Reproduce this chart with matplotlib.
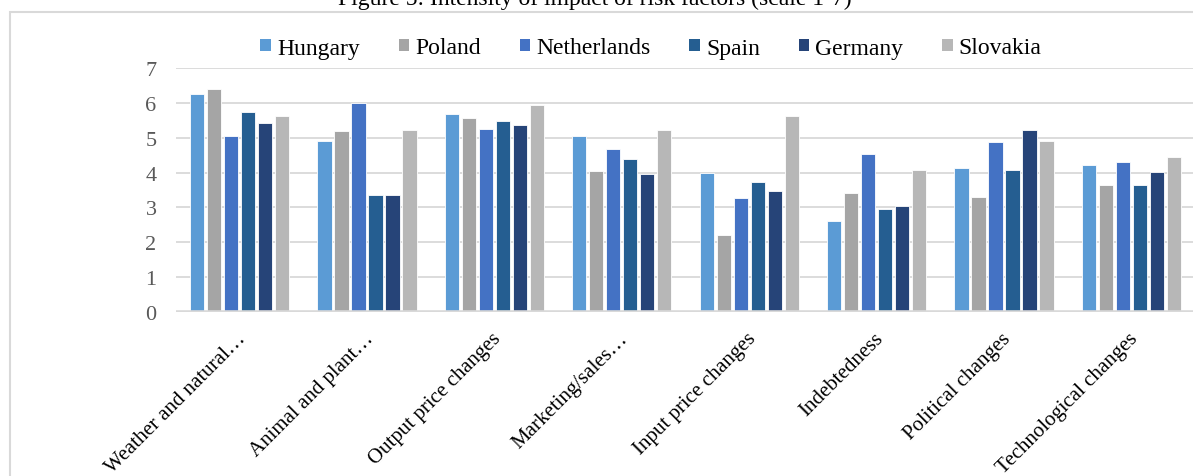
import matplotlib
matplotlib.use("Agg")
import matplotlib.pyplot as plt
from matplotlib.patches import Patch, Rectangle
from matplotlib.transforms import ScaledTranslation
import numpy as np

categories = [
    "Weather and natural\u2026",
    "Animal and plant\u2026",
    "Output price changes",
    "Marketing/sales\u2026",
    "Input price changes",
    "Indebtedness",
    "Political changes",
    "Technological changes",
]
countries = ["Hungary", "Poland", "Netherlands", "Spain", "Germany", "Slovakia"]

hungary = [6.24, 4.91, 5.68, 5.06, 3.98, 2.62, 4.14, 4.22]
poland = [6.41, 5.19, 5.56, 4.04, 2.21, 3.41, 3.31, 3.63]
netherlands = [5.06, 5.99, 5.24, 4.69, 3.27, 4.52, 4.89, 4.31]
spain = [5.74, 3.37, 5.49, 4.38, 3.74, 2.96, 4.08, 3.63]
germany = [5.41, 3.36, 5.36, 3.95, 3.47, 3.04, 5.23, 4.01]
slovakia = [5.63, 5.21, 5.95, 5.22, 5.63, 4.07, 4.92, 4.46]
yticks = [0, 1, 2, 3, 4, 5, 6, 7]

series = [hungary, poland, netherlands, spain, germany, slovakia]
colors = ["#5B9BD5", "#A5A5A5", "#4472C4", "#255E91", "#264478", "#B7B7B7"]

plt.rcParams["font.family"] = ["Liberation Serif", "DejaVu Serif"]

W, H = 1193, 477
fig = plt.figure(figsize=(W / 100, H / 100), dpi=100)

# outer chart frame
fig.patches.append(Rectangle((10 / W, -0.1), 1.2, (H - 13) / H + 0.1,
                             transform=fig.transFigure, fill=False,
                             edgecolor="#D9D9D9", linewidth=1.5))

fig.text(595 / W, 1 - 5 / H, "Figure 5: Intensity of impact of risk factors (scale 1-7)",
         ha="center", va="baseline", fontsize=17, color="black")

ax = fig.add_axes([176 / W, (H - 313) / H, 1019 / W, 244 / H])

x = np.arange(len(categories))
step = 0.1334
width = 0.112
for i, (vals, c, name) in enumerate(zip(series, colors, countries)):
    off = (i - 2.5) * step
    ax.bar(x + off, vals, width=width, color=c, edgecolor="white",
           linewidth=0.6, label=name, zorder=3)

ax.set_xlim(-0.5, len(categories) - 0.5)
ax.set_ylim(0, 7)
ax.set_yticks(yticks)
ax.set_yticklabels([str(v) for v in yticks], color="#595959", fontsize=16)
ax.tick_params(axis="y", length=0, pad=14)
ax.tick_params(axis="x", length=0, pad=0)
ax.set_xticks(x)
ax.set_xticklabels(categories, rotation=45, ha="right", va="top",
                   rotation_mode="anchor", fontsize=15, color="black")
off_t = ScaledTranslation(-3 / 100, -17 / 100, fig.dpi_scale_trans)
for lbl in ax.get_xticklabels():
    lbl.set_transform(lbl.get_transform() + off_t)

for v in yticks[1:]:
    ax.axhline(v, color="#D9D9D9", linewidth=1.3, zorder=1)
ax.axhline(0, color="#D9D9D9", linewidth=2.6, zorder=4)

for s in ax.spines.values():
    s.set_visible(False)
ax.set_facecolor("none")

handles = [Patch(facecolor=c, edgecolor="none") for c in colors]
fig.legend(handles, countries, loc="center", bbox_to_anchor=(651 / W, 1 - 49 / H),
           ncol=6, frameon=False, fontsize=17, handlelength=0.45, handleheight=0.45,
           handletextpad=0.25, columnspacing=1.65, borderaxespad=0)

fig.savefig("out.png", dpi=100)
